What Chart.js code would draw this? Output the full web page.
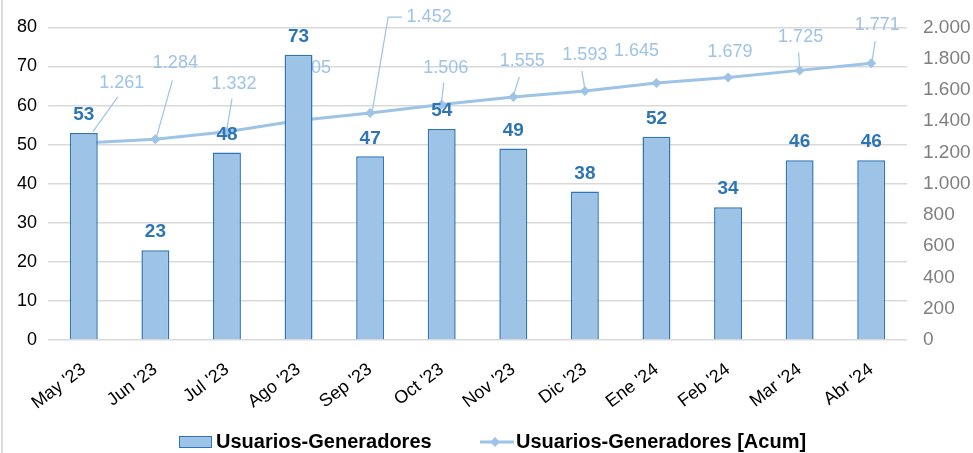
<!DOCTYPE html>
<html>
<head>
<meta charset="utf-8">
<script src="https://cdn.jsdelivr.net/npm/chart.js@4.4.0/dist/chart.umd.min.js"></script>
<style>
    html, body { margin: 0; padding: 0; background: #fff; }
    #wrap { position: relative; width: 973px; height: 453px; overflow: hidden; }
    #edge { position: absolute; left: 1px; top: 0; width: 2px; height: 453px; background: #dcdcdc; }
    .item {
        position: absolute; top: 430px; display: flex; align-items: center;
        font-family: 'Liberation Sans', Arial, sans-serif; font-weight: bold; font-size: 20px; color: #000;
    }
    .box { width: 31px; height: 10px; background: #9dc3e6; border: 1.5px solid #2e75b6; margin-right: 4px; }
</style>
</head>
<body>
<div id="wrap">
    <canvas id="mainChart" width="973" height="453"></canvas>
    <div id="edge"></div>
    <div class="item" style="left:179px"><span class="box"></span>Usuarios-Generadores</div>
    <div class="item" style="left:480px">
        <svg width="34" height="14" style="margin-right:2px"><line x1="0" y1="7" x2="34" y2="7" stroke="#9dc3e6" stroke-width="3"/><polygon points="15,2 20,7 15,12 10,7" fill="#9dc3e6"/></svg>Usuarios-Generadores [Acum]
    </div>
</div>
<script>
// Data
const months = ["May '23", "Jun '23", "Jul '23", "Ago '23", "Sep '23", "Oct '23",
                "Nov '23", "Dic '23", "Ene '24", "Feb '24", "Mar '24", "Abr '24"];
const usuarios = [53, 23, 48, 73, 47, 54, 49, 38, 52, 34, 46, 46];
const usuariosAcum = [1261, 1284, 1332, 1405, 1452, 1506, 1555, 1593, 1645, 1679, 1725, 1771];

// Axis ranges
const leftAxis = { min: 0, max: 80, step: 10 };
const rightAxis = { min: 0, max: 2000, step: 200 };

// Label placement for the cumulative line (offset of text centre from the point)
const acumLabelOffsets = [[38, -60], [20, -76], [7, -48], [10, -52], [59, -96], [4, -37],
                          [9, -36], [0, -36], [-20, -32], [2, -26], [1, -33], [6, -38]];
// Leader lines, relative to the point
const acumLeaders = [
    [[34, -46], [9, -11]],
    [[17, -59], [1, -2]],
    [[5, -33], [0, -3]],
    null,
    [[32, -96], [18, -96], [2, -1]],
    [[2, -22], [0, -4]],
    [[6, -20], [0, -1]],
    [[-3, -20], [0, -2]],
    null,
    null,
    [[-1, -18], [0, -2]],
    [[4, -22], [1, -3]]
];

const FONT = "'Liberation Sans', Arial, sans-serif";
const lightBlue = '#9dc3e6';
const darkBlue = '#2e75b6';

function fmtNum(v) {
    if (v >= 1000) return Math.floor(v / 1000) + '.' + String(v % 1000).padStart(3, '0');
    return String(v);
}

/* line labels go under the bars, like the original */
const acumLabels = {
    id: 'acumLabels',
    beforeDatasetsDraw(chart) {
        const meta = chart.getDatasetMeta(1);
        const ctx = chart.ctx;
        ctx.save();
        ctx.strokeStyle = lightBlue;
        ctx.lineWidth = 1.2;
        meta.data.forEach((pt, i) => {
            const leader = acumLeaders[i];
            if (leader) {
                ctx.beginPath();
                leader.forEach((p, j) => {
                    if (j === 0) ctx.moveTo(pt.x + p[0], pt.y + p[1]);
                    else ctx.lineTo(pt.x + p[0], pt.y + p[1]);
                });
                ctx.stroke();
            }
            ctx.fillStyle = lightBlue;
            ctx.font = '18px ' + FONT;
            ctx.textAlign = 'center';
            ctx.textBaseline = 'middle';
            ctx.fillText(fmtNum(usuariosAcum[i]), pt.x + acumLabelOffsets[i][0], pt.y + acumLabelOffsets[i][1]);
        });
        ctx.restore();
    }
};

const barLabels = {
    id: 'barLabels',
    afterDatasetsDraw(chart) {
        const meta = chart.getDatasetMeta(0);
        const ctx = chart.ctx;
        ctx.save();
        ctx.fillStyle = darkBlue;
        ctx.font = 'bold 19px ' + FONT;
        ctx.textAlign = 'center';
        ctx.textBaseline = 'middle';
        meta.data.forEach((bar, i) => {
            ctx.fillText(String(usuarios[i]), bar.x, bar.y - 18);
        });
        ctx.restore();
    }
};

new Chart(document.getElementById('mainChart'), {
    data: {
        labels: months,
        datasets: [
            {
                type: 'bar',
                label: 'Usuarios-Generadores',
                data: usuarios,
                backgroundColor: lightBlue,
                borderColor: darkBlue,
                borderWidth: 1.5,
                barPercentage: 0.39,
                categoryPercentage: 1,
                yAxisID: 'y',
                order: 0
            },
            {
                type: 'line',
                label: 'Usuarios-Generadores [Acum]',
                data: usuariosAcum,
                borderColor: lightBlue,
                backgroundColor: lightBlue,
                borderWidth: 3,
                pointStyle: 'rectRot',
                pointRadius: 5,
                pointBorderWidth: 0,
                pointBackgroundColor: lightBlue,
                tension: 0,
                yAxisID: 'y1',
                order: 1
            }
        ]
    },
    options: {
        responsive: false,
        animation: false,
        layout: { padding: { top: 27, left: 0, right: 0, bottom: 0 } },
        plugins: {
            legend: { display: false },
            tooltip: { enabled: false }
        },
        scales: {
            x: {
                grid: { display: false },
                border: { display: false },
                ticks: {
                    color: '#000',
                    font: { family: FONT, size: 18 },
                    minRotation: 37,
                    maxRotation: 37,
                    padding: 11
                },
                afterFit(scale) { scale.height = 113; }
            },
            y: {
                position: 'left',
                min: leftAxis.min,
                max: leftAxis.max,
                grid: { color: '#d9d9d9', lineWidth: 1.5, drawTicks: false },
                border: { display: false },
                ticks: {
                    stepSize: leftAxis.step,
                    color: '#000',
                    font: { family: FONT, size: 18 },
                    padding: 11
                },
                afterFit(scale) { scale.width = 48; }
            },
            y1: {
                position: 'right',
                min: rightAxis.min,
                max: rightAxis.max,
                grid: { display: false, drawTicks: false },
                border: { display: false },
                ticks: {
                    stepSize: rightAxis.step,
                    color: '#808080',
                    font: { family: FONT, size: 19 },
                    padding: 16,
                    callback: v => fmtNum(v)
                },
                afterFit(scale) { scale.width = 66; }
            }
        }
    },
    plugins: [acumLabels, barLabels]
});
</script>
</body>
</html>
